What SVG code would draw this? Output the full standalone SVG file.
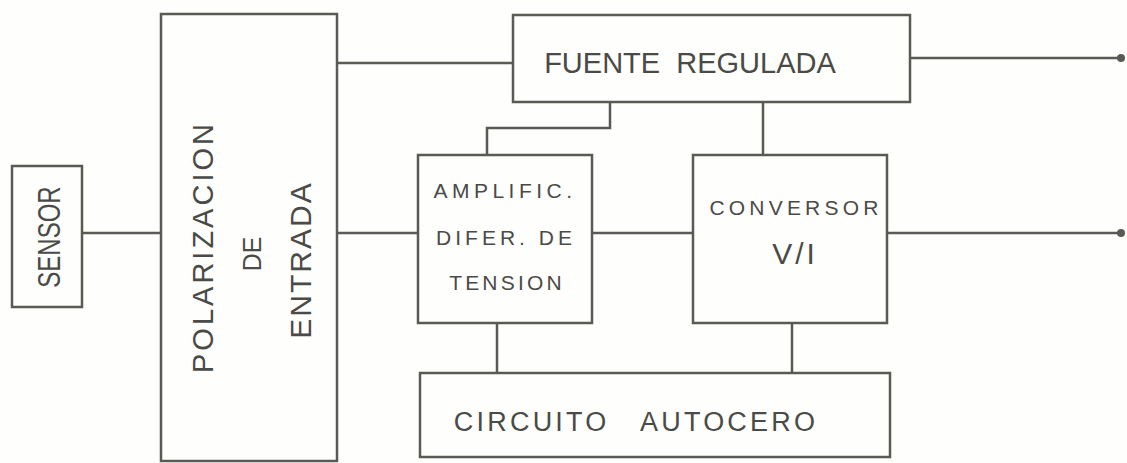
<svg xmlns="http://www.w3.org/2000/svg" width="1127" height="463" viewBox="0 0 1127 463">
<style>
.box{fill:none;stroke:#5a5a55;stroke-width:2.5}
.wire{fill:none;stroke:#5a5a55;stroke-width:2.5}
.dot{fill:#5a5a55}
.lbl{font-family:"Liberation Sans",Arial,sans-serif;fill:#4a4a46;text-anchor:middle;dominant-baseline:central}
</style>
<rect width="1127" height="463" fill="#fefefc"/>
<g id="connectors">
<path class="wire" d="M82 233H161"/>
<path class="wire" d="M337 63H513"/>
<path class="wire" d="M337 233H418"/>
<path class="wire" d="M592 233H693"/>
<path class="wire" d="M887 233H1121"/>
<path class="wire" d="M910 58H1121"/>
<path class="wire" d="M610 102V128H487V155"/>
<path class="wire" d="M763 102V155"/>
<path class="wire" d="M497 323V373"/>
<path class="wire" d="M792 323V373"/>
<circle class="dot" cx="1121" cy="58" r="4"/>
<circle class="dot" cx="1121" cy="233" r="4"/>
</g>
<g id="sensor">
<rect class="box" x="12" y="166" width="70" height="141"/>
<text class="lbl" transform="translate(49 237) rotate(-90) scale(0.75 1)" font-size="32">SENSOR</text>
</g>
<g id="polarizacion">
<rect class="box" x="161" y="14" width="176" height="447"/>
<text class="lbl" transform="translate(203 247) rotate(-90)" font-size="29" letter-spacing="3">POLARIZACION</text>
<text class="lbl" transform="translate(252 254) rotate(-90)" font-size="25">DE</text>
<text class="lbl" transform="translate(300 260) rotate(-90)" font-size="30" letter-spacing="2">ENTRADA</text>
</g>
<g id="fuente">
<rect class="box" x="513" y="15" width="397" height="87"/>
<text class="lbl" x="690" y="63" font-size="29" xml:space="preserve">FUENTE  REGULADA</text>
</g>
<g id="amplific">
<rect class="box" x="418" y="155" width="174" height="168"/>
<text class="lbl" x="505" y="190" font-size="21" letter-spacing="4.5">AMPLIFIC.</text>
<text class="lbl" x="506" y="237" font-size="21" letter-spacing="4">DIFER. DE</text>
<text class="lbl" x="507" y="282" font-size="21" letter-spacing="3.2">TENSION</text>
</g>
<g id="conversor">
<rect class="box" x="693" y="155" width="194" height="168"/>
<text class="lbl" x="796" y="207" font-size="21" letter-spacing="4.2">CONVERSOR</text>
<text class="lbl" x="795" y="253" font-size="30" letter-spacing="3">V/I</text>
</g>
<g id="autocero">
<rect class="box" x="420" y="373" width="470" height="84"/>
<text class="lbl" x="636" y="422" font-size="27" letter-spacing="3.2" xml:space="preserve">CIRCUITO   AUTOCERO</text>
</g>
</svg>
